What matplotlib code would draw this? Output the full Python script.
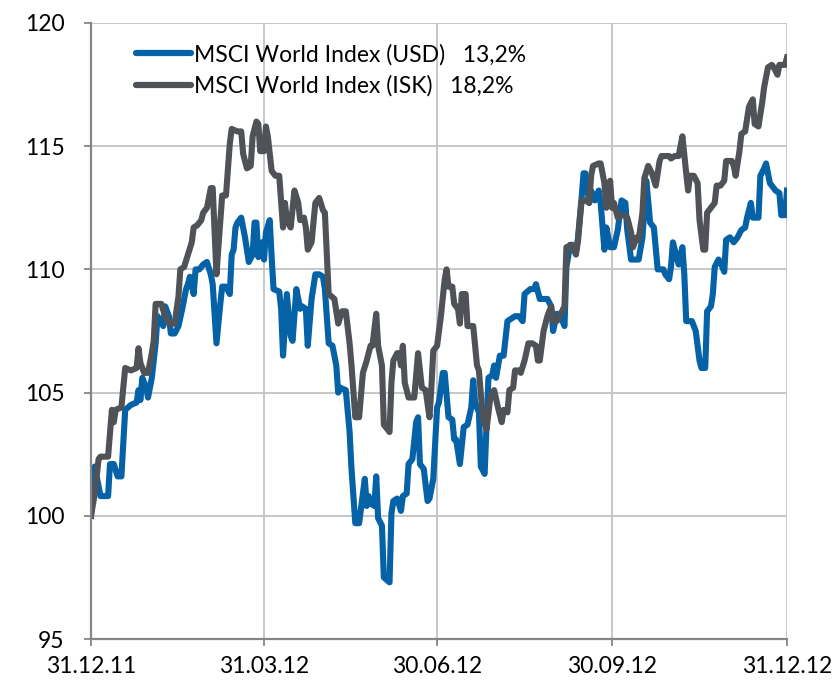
import datetime as dt
import matplotlib
matplotlib.use("Agg")
import matplotlib.pyplot as plt
import matplotlib.dates as mdates

# days after 31.12.2011, index values (31.12.2011 = 100)
usd_days = [0, 2, 5, 9, 10, 12, 14, 16, 18, 21, 24, 25, 26, 27, 29, 30, 32, 33, 34, 35,
            38, 39, 41, 42, 44, 46, 48, 50, 51, 52, 54, 55, 57, 59, 61, 63, 64, 66, 68, 69,
            71, 73, 74, 75, 76, 77, 79, 81, 83, 85, 86, 87, 88, 90, 91, 92, 94, 95, 96, 99,
            100, 101, 103, 105, 106, 108, 110, 111, 113, 114, 116, 118, 120, 122, 123, 125, 127, 129, 130, 131,
            134, 136, 137, 139, 141, 144, 145, 146, 147, 149, 150, 151, 153, 154, 157, 158, 159, 161, 163, 164,
            166, 167, 169, 171, 172, 173, 175, 177, 178, 180, 182, 183, 185, 186, 188, 190, 191, 192, 194, 196,
            198, 200, 201, 202, 204, 205, 207, 209, 211, 212, 213, 215, 217, 219, 221, 223, 225, 227, 228, 231,
            233, 234, 236, 238, 240, 242, 243, 245, 247, 249, 250, 252, 255, 256, 258, 259, 260, 262, 263, 265,
            267, 268, 270, 271, 273, 275, 277, 279, 281, 282, 284, 286, 288, 290, 292, 293, 294, 296, 298, 300,
            301, 302, 304, 305, 306, 308, 309, 311, 312, 313, 316, 318, 320, 321, 323, 324, 326, 327, 328, 330,
            331, 333, 334, 336, 338, 340, 342, 344, 345, 347, 348, 351, 352, 354, 355, 357, 358, 360, 362, 363,
            365, 366]
usd_vals = [100.0, 102.0, 100.8, 100.8, 102.1, 102.1, 101.6, 101.6, 104.3, 104.5, 104.6, 105.1, 104.7, 105.6, 105.2, 104.8, 105.6, 106.3, 107.0, 108.1,
            107.7, 108.5, 108.1, 107.4, 107.4, 107.7, 108.4, 109.2, 109.4, 109.7, 109.0, 110.0, 110.0, 110.2, 110.3, 109.8, 109.4, 107.0, 108.6, 109.3,
            109.3, 109.0, 110.6, 110.8, 111.7, 111.9, 112.1, 111.3, 110.3, 110.6, 111.9, 111.9, 110.5, 111.1, 110.4, 111.5, 112.0, 110.5, 109.2, 109.1,
            108.4, 106.5, 109.0, 107.3, 107.1, 109.2, 108.4, 108.5, 108.4, 106.9, 108.8, 109.8, 109.8, 109.7, 109.2, 107.0, 106.9, 106.1, 105.0, 105.2,
            105.1, 103.4, 101.9, 99.7, 99.7, 101.5, 100.4, 100.8, 100.5, 100.4, 101.6, 99.9, 99.6, 97.5, 97.3, 100.1, 100.6, 100.7, 100.2, 100.8,
            100.9, 102.1, 102.3, 103.8, 104.0, 102.1, 101.9, 100.6, 100.7, 101.5, 104.4, 104.6, 105.8, 105.8, 104.0, 103.9, 103.1, 103.1, 102.1, 103.6,
            103.7, 104.4, 105.5, 104.6, 104.2, 102.0, 101.7, 105.6, 105.7, 106.1, 105.6, 106.5, 106.5, 107.9, 108.0, 108.1, 108.1, 107.9, 109.0, 109.2,
            109.2, 109.4, 108.8, 108.8, 108.8, 108.5, 107.5, 108.2, 108.1, 107.7, 110.1, 111.0, 110.7, 111.2, 112.9, 113.9, 113.9, 112.7, 113.2, 112.8,
            113.2, 112.7, 110.8, 111.7, 110.9, 110.9, 111.6, 112.8, 112.7, 111.6, 110.4, 110.4, 110.4, 111.3, 113.6, 112.8, 111.9, 111.7, 110.0, 110.0,
            110.0, 109.8, 109.6, 110.1, 111.1, 110.5, 110.2, 110.9, 109.8, 107.9, 107.9, 107.5, 106.3, 106.0, 106.0, 108.3, 108.5, 109.0, 110.1, 110.4,
            110.3, 109.9, 111.2, 111.3, 111.1, 111.3, 111.6, 111.7, 112.1, 112.7, 112.1, 112.1, 113.8, 114.1, 114.3, 113.5, 113.4, 113.2, 113.1, 112.2,
            112.2, 113.2]

isk_days = [0, 2, 4, 5, 9, 11, 12, 13, 16, 18, 21, 24, 25, 26, 28, 30, 32, 33, 34, 37,
            39, 41, 44, 46, 47, 49, 51, 53, 54, 56, 58, 59, 61, 63, 64, 66, 67, 69, 71, 73,
            74, 77, 79, 80, 82, 84, 85, 87, 88, 89, 91, 92, 93, 95, 97, 99, 101, 102, 103, 105,
            107, 109, 110, 112, 113, 114, 116, 118, 120, 122, 123, 125, 128, 130, 132, 134, 136, 137, 139, 141,
            143, 145, 147, 148, 150, 151, 153, 154, 155, 157, 158, 159, 161, 162, 163, 164, 165, 167, 170, 172,
            174, 176, 178, 179, 180, 182, 184, 186, 187, 188, 190, 191, 193, 194, 195, 197, 198, 201, 203, 204,
            206, 208, 210, 212, 214, 216, 217, 219, 220, 222, 223, 225, 226, 228, 230, 232, 234, 235, 236, 238,
            240, 242, 243, 245, 247, 249, 250, 253, 255, 256, 258, 260, 262, 263, 264, 267, 268, 270, 271, 273,
            274, 275, 277, 278, 280, 282, 284, 285, 287, 288, 290, 291, 293, 295, 297, 299, 300, 302, 304, 305,
            307, 309, 311, 313, 314, 315, 317, 319, 320, 322, 323, 324, 326, 328, 329, 331, 333, 334, 337, 338,
            339, 341, 342, 344, 346, 348, 349, 351, 353, 354, 356, 358, 359, 361, 362, 365, 366]
isk_vals = [100.0, 100.9, 102.3, 102.4, 102.4, 104.3, 103.8, 104.3, 104.4, 106.0, 105.9, 106.0, 106.8, 106.2, 105.8, 105.8, 106.6, 107.1, 108.6, 108.6,
            108.1, 107.8, 107.8, 108.9, 110.0, 110.1, 110.6, 111.1, 111.7, 111.8, 112.0, 112.3, 112.5, 113.3, 113.3, 109.8, 110.9, 113.0, 113.0, 115.1,
            115.7, 115.6, 115.6, 114.7, 114.1, 114.2, 115.4, 116.0, 115.9, 114.8, 114.8, 115.8, 115.4, 114.0, 113.8, 113.8, 111.7, 112.7, 112.0, 111.7,
            113.2, 112.7, 112.0, 112.1, 111.7, 110.8, 111.1, 112.7, 112.9, 112.4, 112.3, 109.0, 108.8, 107.8, 108.3, 108.3, 107.0, 106.1, 104.0, 104.0,
            105.8, 106.3, 106.9, 106.9, 108.2, 106.9, 106.1, 103.7, 103.6, 103.4, 105.4, 106.3, 106.6, 106.6, 106.1, 106.9, 105.4, 104.8, 104.8, 106.6,
            105.2, 105.1, 104.0, 105.2, 106.7, 106.9, 108.1, 109.6, 110.0, 109.3, 109.3, 108.6, 108.4, 107.8, 109.0, 109.0, 107.7, 107.7, 106.1, 105.9,
            104.0, 103.5, 104.8, 105.1, 104.4, 103.8, 104.3, 104.2, 105.1, 105.2, 105.9, 105.9, 105.8, 106.3, 107.0, 107.0, 106.9, 106.3, 106.3, 107.5,
            108.1, 108.5, 107.9, 107.9, 108.2, 108.5, 110.9, 111.0, 110.6, 111.1, 112.8, 112.8, 112.7, 113.8, 114.2, 114.3, 114.3, 113.5, 112.5, 113.6,
            112.5, 112.7, 112.1, 112.2, 112.2, 112.1, 111.5, 110.9, 111.3, 111.2, 112.3, 113.7, 114.2, 113.9, 113.4, 114.4, 114.6, 114.6, 114.6, 114.5,
            114.6, 114.6, 115.4, 113.9, 113.2, 113.8, 113.8, 113.5, 112.0, 110.8, 110.8, 112.3, 112.5, 112.7, 113.4, 113.4, 113.6, 114.4, 114.4, 114.2,
            113.8, 114.8, 115.5, 115.6, 116.6, 116.9, 115.9, 115.8, 116.8, 117.4, 118.2, 118.3, 118.2, 117.9, 118.3, 118.3, 118.6]

usd_label = "MSCI World Index (USD)   13,2%"
isk_label = "MSCI World Index (ISK)   18,2%"
tick_dates = ["31.12.11", "31.03.12", "30.06.12", "30.09.12", "31.12.12"]

start = dt.datetime(2011, 12, 31)
usd_x = [start + dt.timedelta(days=d) for d in usd_days]
isk_x = [start + dt.timedelta(days=d) for d in isk_days]
tick_x = [dt.datetime.strptime(s, "%d.%m.%y") for s in tick_dates]

plt.rcParams['font.family'] = ['Lato', 'DejaVu Sans']

fig = plt.figure(figsize=(8.4, 6.86), dpi=100)
ax = fig.add_axes([0.1083, 0.0685, 0.8286, 0.898])

ax.plot(usd_x, usd_vals, color='#0562a6', lw=4.4, label=usd_label, solid_joinstyle='round')
ax.plot(isk_x, isk_vals, color='#4f5358', lw=4.4, label=isk_label, solid_joinstyle='round')

ax.set_xlim(tick_x[0], tick_x[-1])
ax.set_ylim(95, 120)
ax.set_yticks(range(95, 121, 5))
ax.set_xticks(tick_x)
ax.xaxis.set_major_formatter(mdates.DateFormatter("%d.%m.%y"))

ax.grid(True, color='#c3c3c3', lw=1.3)
ax.set_axisbelow(True)
for s in ['top', 'right']:
    ax.spines[s].set_visible(False)
for s in ['left', 'bottom']:
    ax.spines[s].set_color('#868686')
    ax.spines[s].set_linewidth(1.6)
ax.tick_params(axis='both', colors='#868686', width=1.3, length=5, labelsize=16.5,
               labelcolor='black')
ax.tick_params(axis='y', pad=14)
ax.tick_params(axis='x', pad=7)

leg = ax.legend(loc='upper left', bbox_to_anchor=(0.035, 1.0), frameon=False,
                fontsize=16.5, handlelength=2.4, handletextpad=0.15, labelspacing=0.45)
for h in leg.get_lines():
    h.set_linewidth(4.5)
    h.set_solid_capstyle('round')

fig.savefig("out.png", dpi=100)
